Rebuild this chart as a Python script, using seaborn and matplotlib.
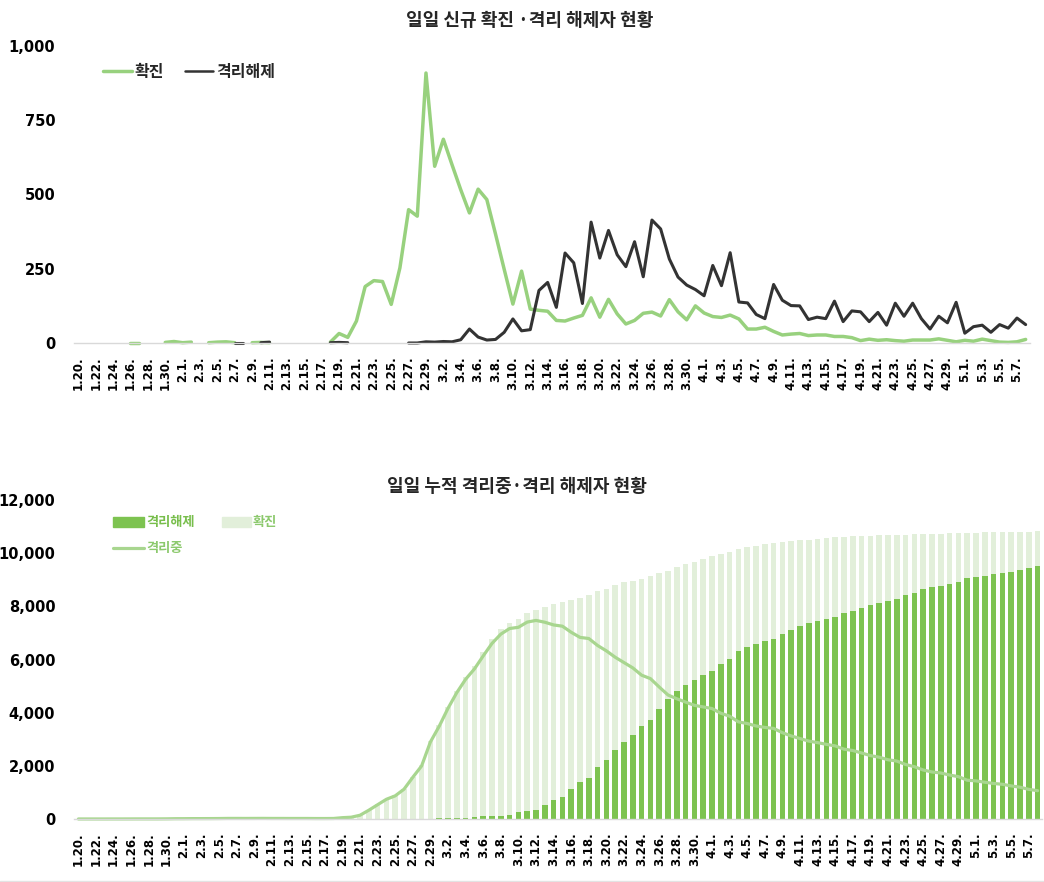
import numpy as np
import pandas as pd
import matplotlib
matplotlib.use("Agg")
import matplotlib.pyplot as plt
from matplotlib.lines import Line2D
from matplotlib.patches import Rectangle
import seaborn as sns

# ---- data (one category per day, 2020-01-20 .. 2020-05-08) ----
dates = pd.date_range("2020-01-20", "2020-05-08", freq="D")
date_labels = [f"{d.month}.{d.day}." for d in dates]

N = None  # blank day (no line drawn)

new_confirmed = [
    1, N, N, N, 1, N, 1, 1, N, N,
    2, 5, 1, 3, N, 1, 3, 4, 1, N,
    1, 2, 1, N, N, N, N, N, N, 3,
    32, 19, 74, 190, 210, 207, 130, 253, 449, 427,
    909, 595, 686, 600, 516, 438, 518, 483, 367, 248,
    131, 242, 114, 110, 107, 76, 74, 84, 93, 152,
    87, 147, 98, 64, 76, 100, 104, 91, 146, 105,
    78, 125, 101, 89, 86, 94, 81, 47, 47, 53,
    39, 27, 30, 32, 25, 27, 27, 22, 22, 18,
    8, 13, 9, 11, 8, 6, 10, 10, 10, 14,
    9, 4, 9, 6, 13, 8, 3, 2, 4, 12,
]

new_released = [
    N, N, N, N, N, N, N, N, N, N,
    N, N, N, N, N, N, 1, N, 1, 1,
    N, 1, 3, N, 1, N, N, 2, N, 1,
    2, 1, N, N, N, N, N, N, 0, 0,
    4, 3, 5, 4, 11, 47, 20, 10, 12, 36,
    81, 41, 45, 177, 204, 120, 303, 270, 133, 407,
    286, 379, 297, 257, 341, 223, 414, 384, 283, 222,
    195, 180, 159, 261, 193, 304, 138, 135, 96, 82,
    197, 144, 126, 125, 79, 87, 82, 141, 72, 108,
    105, 72, 103, 60, 134, 90, 134, 82, 47, 90,
    68, 137, 33, 55, 60, 36, 62, 50, 84, 62,
]

cum_confirmed = [
    1, 1, 1, 1, 2, 2, 3, 4, 4, 4,
    6, 11, 12, 15, 15, 16, 19, 23, 24, 24,
    25, 27, 28, 28, 28, 28, 28, 28, 28, 31,
    63, 82, 156, 346, 556, 763, 893, 1146, 1595, 2022,
    2931, 3526, 4212, 4812, 5328, 5766, 6284, 6767, 7134, 7382,
    7513, 7755, 7869, 7979, 8086, 8162, 8236, 8320, 8413, 8565,
    8652, 8799, 8897, 8961, 9037, 9137, 9241, 9332, 9478, 9583,
    9661, 9786, 9887, 9976, 10062, 10156, 10237, 10284, 10331, 10384,
    10423, 10450, 10480, 10512, 10537, 10564, 10591, 10613, 10635, 10653,
    10661, 10674, 10683, 10694, 10702, 10708, 10718, 10728, 10738, 10752,
    10761, 10765, 10774, 10780, 10793, 10801, 10804, 10806, 10810, 10822,
]

cum_released = [
    0, 0, 0, 0, 0, 0, 0, 0, 0, 0,
    0, 0, 0, 0, 0, 0, 1, 1, 2, 3,
    3, 4, 7, 7, 8, 8, 8, 10, 10, 11,
    13, 14, 14, 14, 14, 14, 14, 14, 14, 14,
    18, 21, 26, 30, 41, 88, 108, 118, 130, 166,
    247, 288, 333, 510, 714, 834, 1137, 1407, 1540, 1947,
    2233, 2612, 2909, 3166, 3507, 3730, 4144, 4528, 4811, 5033,
    5228, 5408, 5567, 5828, 6021, 6325, 6463, 6598, 6694, 6776,
    6973, 7117, 7243, 7368, 7447, 7534, 7616, 7757, 7829, 7937,
    8042, 8114, 8217, 8277, 8411, 8501, 8635, 8717, 8764, 8854,
    8922, 9059, 9092, 9147, 9207, 9243, 9305, 9355, 9439, 9501,
]

in_isolation = [
    1, 1, 1, 1, 2, 2, 3, 4, 4, 4,
    6, 11, 12, 15, 15, 16, 18, 22, 22, 21,
    22, 23, 21, 21, 20, 20, 20, 18, 18, 20,
    50, 67, 141, 330, 537, 742, 871, 1121, 1569, 1995,
    2897, 3488, 4164, 4754, 5255, 5643, 6134, 6605, 6954, 7165,
    7212, 7407, 7470, 7402, 7300, 7253, 7024, 6832, 6789, 6527,
    6325, 6085, 5884, 5684, 5410, 5281, 4966, 4665, 4523, 4398,
    4275, 4216, 4155, 3979, 3867, 3654, 3591, 3500, 3445, 3408,
    3246, 3125, 3026, 2930, 2873, 2808, 2750, 2627, 2576, 2484,
    2385, 2324, 2229, 2179, 2051, 1967, 1843, 1769, 1731, 1654,
    1593, 1459, 1434, 1383, 1336, 1306, 1245, 1196, 1115, 1065,
]

top_yticks = [0, 250, 500, 750, 1000]
top_yticklabels = ["0", "250", "500", "750", "1,000"]
bottom_yticks = [0, 2000, 4000, 6000, 8000, 10000, 12000]
bottom_yticklabels = ["0", "2,000", "4,000", "6,000", "8,000", "10,000", "12,000"]

# ---- style ----
GREEN_LINE = "#98D17E"
DARK_LINE = "#333333"
BAR_LIGHT = "#E2EFDA"
BAR_DARK = "#7DC350"
ISO_LINE = "#A8D68F"
AXIS_GRAY = "#D9D9D9"

sns.set_theme(style="white")
plt.rcParams["font.family"] = ["Noto Sans CJK KR", "DejaVu Sans"]
plt.rcParams["axes.unicode_minus"] = False

W, H = 1044, 882
fig = plt.figure(figsize=(W / 100, H / 100), dpi=100)


def fx(px):
    return px / W


def fy(py):
    return 1 - py / H


ax1 = fig.add_axes([fx(74), fy(343), fx(1030 - 74), (343 - 46) / H])
ax2 = fig.add_axes([fx(74), fy(819), fx(1042 - 74), (819 - 500) / H])

idx = np.arange(len(date_labels))


def runs_frame(values):
    """Split a series with blank days into separately drawn runs."""
    vals = np.array([np.nan if v is None else v for v in values], dtype=float)
    ok = ~np.isnan(vals)
    run = np.cumsum(~ok)
    return pd.DataFrame({"day": idx[ok], "value": vals[ok], "run": run[ok]})


# ---- top: daily new confirmed / released ----
sns.lineplot(data=runs_frame(new_confirmed), x="day", y="value", units="run",
             estimator=None, color=GREEN_LINE, linewidth=2.5, ax=ax1, legend=False)
sns.lineplot(data=runs_frame(new_released), x="day", y="value", units="run",
             estimator=None, color=DARK_LINE, linewidth=2.2, ax=ax1, legend=False)

# ---- bottom: cumulative bars + in-isolation line ----
sns.barplot(x=idx, y=cum_confirmed, color=BAR_LIGHT, saturation=1, width=0.64,
            errorbar=None, linewidth=0, edgecolor="none", ax=ax2)
sns.barplot(x=idx, y=cum_released, color=BAR_DARK, saturation=1, width=0.64,
            errorbar=None, linewidth=0, edgecolor="none", ax=ax2)
sns.lineplot(x=idx, y=in_isolation, color=ISO_LINE, linewidth=2.3, ax=ax2)

for ax in (ax1, ax2):
    for ln in ax.lines:
        ln.set_clip_on(False)
        ln.set_solid_joinstyle("round")
        ln.set_solid_capstyle("round")

tick_font = dict(family="DejaVu Sans", weight="bold")


def style_axis(ax, yticks, yticklabels, ymax):
    ax.set_xlim(-0.5, len(idx) - 0.5)
    ax.set_ylim(0, ymax)
    ax.set_xlabel("")
    ax.set_ylabel("")
    for s in ("left", "top", "right"):
        ax.spines[s].set_visible(False)
    ax.spines["bottom"].set_color(AXIS_GRAY)
    ax.spines["bottom"].set_linewidth(1.0)
    ax.grid(False)
    ax.set_yticks(yticks)
    ax.set_yticklabels(yticklabels, fontsize=10.5, **tick_font)
    ax.tick_params(axis="y", length=0, pad=13.5, colors="black")
    ax.set_xticks(idx[::2])
    ax.set_xticklabels(date_labels[::2], rotation=90, fontsize=8.5, **tick_font)
    ax.set_xticks(np.arange(-0.5, len(idx), 2), minor=True)
    ax.tick_params(axis="x", which="major", length=0, pad=9.5, labelcolor="black")
    ax.tick_params(axis="x", which="minor", length=3.5, width=1.0,
                   color=AXIS_GRAY, direction="out")
    ax.set_facecolor("none")


style_axis(ax1, top_yticks, top_yticklabels, 1000)
style_axis(ax2, bottom_yticks, bottom_yticklabels, 12000)

# ---- titles ----
fig.text(fx(530), fy(21), "일일 신규 확진 ·격리 해제자 현황", ha="center", va="center",
         fontsize=13, weight="bold")
fig.text(fx(517), fy(487), "일일 누적 격리중·격리 해제자 현황", ha="center", va="center",
         fontsize=13, weight="bold")

# ---- legends ----
tf = fig.transFigure
fig.add_artist(Line2D([fx(103), fx(132)], [fy(71), fy(71)], color=GREEN_LINE,
                      lw=2.5, transform=tf))
fig.text(fx(135), fy(72), "확진", ha="left", va="center", fontsize=11.5, weight="bold")
fig.add_artist(Line2D([fx(185), fx(213)], [fy(71), fy(71)], color=DARK_LINE,
                      lw=1.8, transform=tf))
fig.text(fx(216), fy(72), "격리해제", ha="left", va="center", fontsize=11.5, weight="bold")

fig.add_artist(Rectangle((fx(113), fy(527)), fx(31), 10 / H, color=BAR_DARK,
                         transform=tf))
fig.text(fx(146), fy(522), "격리해제", ha="left", va="center", fontsize=9.5,
         weight="bold", color="#78BE4C")
fig.add_artist(Rectangle((fx(222), fy(527)), fx(29), 10 / H, color=BAR_LIGHT,
                         transform=tf))
fig.text(fx(253), fy(522), "확진", ha="left", va="center", fontsize=9.5,
         weight="bold", color="#8CC96D")
fig.add_artist(Line2D([fx(113), fx(144)], [fy(548), fy(548)], color=ISO_LINE,
                      lw=2.3, transform=tf))
fig.text(fx(146), fy(548), "격리중", ha="left", va="center", fontsize=9.5,
         weight="bold", color="#8CC96D")

# faint frame line along the bottom edge
fig.add_artist(Line2D([0, 1], [fy(880.5), fy(880.5)], color="#E3E3E3", lw=1,
                      transform=tf))

fig.savefig("out.png", dpi=100)
